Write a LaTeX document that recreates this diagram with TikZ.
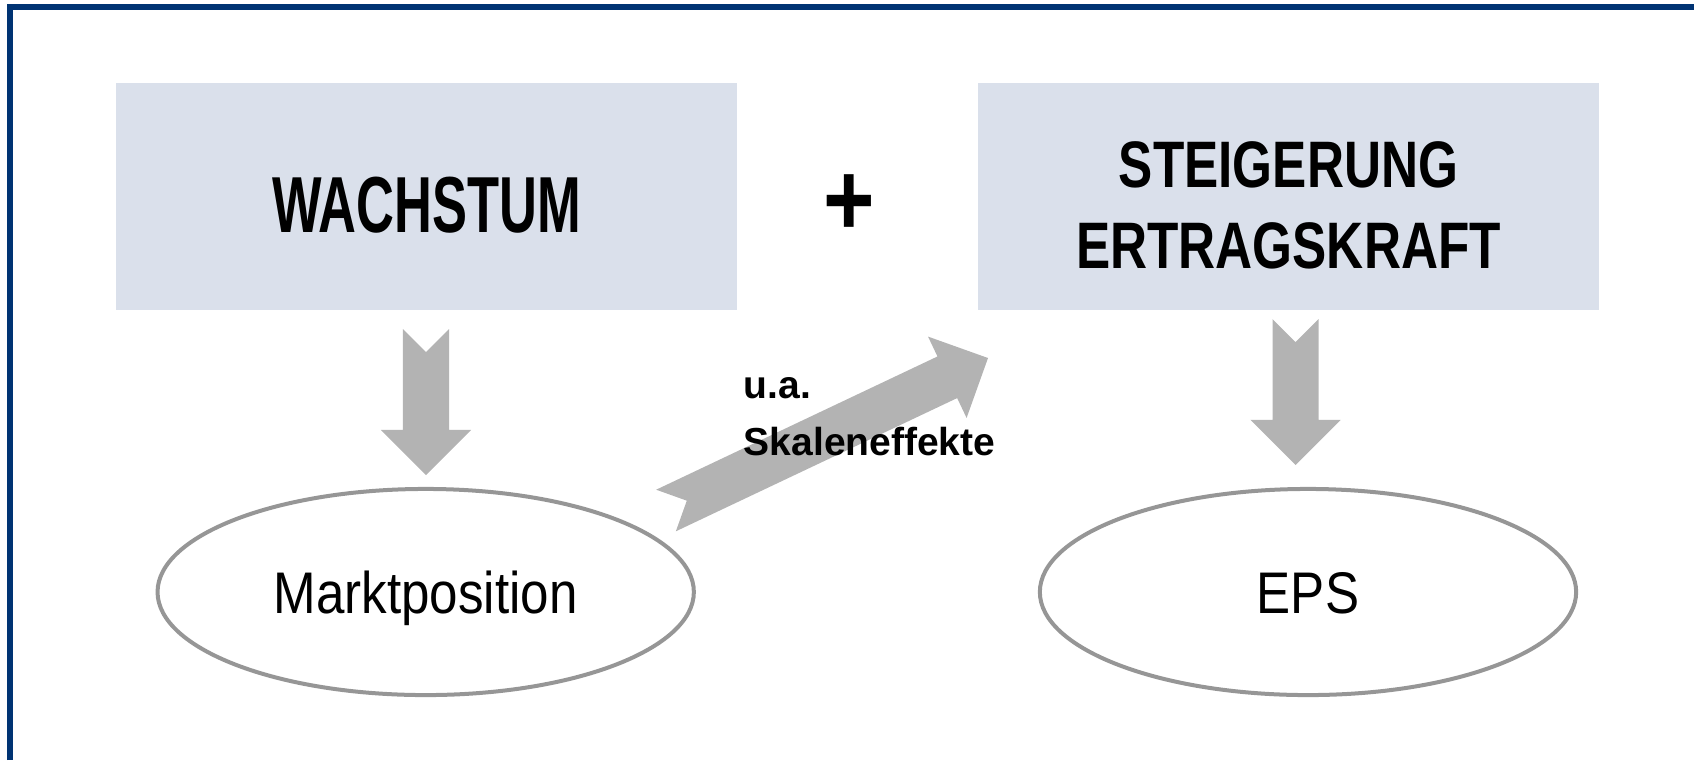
\documentclass[tikz,border=0pt]{standalone}
\usepackage{fontspec}
\setmainfont{Liberation Sans}
\newfontfamily\wachsfont[FakeStretch=0.66]{Liberation Sans}
\newfontfamily\steigfont[FakeStretch=0.78]{Liberation Sans}
\newfontfamily\ovalfont[FakeStretch=0.87]{Liberation Sans}
\newfontfamily\plusfont[FakeStretch=0.85]{Liberation Sans}
\usetikzlibrary{shapes.geometric,calc}
\definecolor{boxfill}{RGB}{218,224,235}
\definecolor{arrowgray}{RGB}{179,179,179}
\definecolor{ovalline}{RGB}{150,150,150}
\definecolor{frameblue}{RGB}{0,51,115}
\newcommand\blockarrow[2]{%
  \coordinate (ba-h) at ($(#2)!0.45cm!(#1)$);
  \fill[arrowgray] ($(#1)!0.23cm!90:(#2)$) -- ($(#1)!0.23cm!(#2)$) -- ($(#1)!0.23cm!-90:(#2)$)
    -- ($(ba-h)!0.23cm!-90:(#2)$) -- ($(ba-h)!0.45cm!-90:(#2)$) -- (#2)
    -- ($(ba-h)!0.45cm!90:(#2)$) -- ($(ba-h)!0.23cm!90:(#2)$) -- cycle;}
\begin{document}
\begin{tikzpicture}[x=0.01cm,y=-0.01cm,
      box/.style={fill=boxfill,minimum width=6.21cm,minimum height=2.27cm,inner sep=0pt},
      oval/.style={ellipse,draw=ovalline,line width=0.04cm,minimum width=5.36cm,
        minimum height=2.06cm,inner sep=0pt,text height=0.42cm,text depth=0pt,
        font=\ovalfont\fontsize{16.7}{20}\selectfont}]
  \useasboundingbox (0,0) rectangle (1694,760);
  \draw[frameblue,line width=0.057cm] (10.3,760) -- (10.3,7.2) -- (1694,7.2);
  \node[box,text height=0.71cm,text depth=0pt,
    font=\wachsfont\bfseries\fontsize{22.6}{27}\selectfont] (wachstum) at (426.5,196.5) {WACHSTUM};
  \node[box,align=center,text height=1.43cm,text depth=0pt,
    font=\steigfont\bfseries\fontsize{18.7}{22.8}\selectfont] (steigerung) at (1288.5,196.5) {STEIGERUNG\\ERTRAGSKRAFT};
  \node[inner sep=0pt,font=\plusfont\bfseries\fontsize{29.5}{30}\selectfont] (plus) at (849,205) {+};
  \node[oval] (markt) at (425.7,592) {Marktposition};
  \node[oval] (eps) at (1308,592) {EPS};
  \coordinate (wa-top) at (426,329);
  \coordinate (wa-tip) at (426,475);
  \coordinate (st-top) at (1295.5,319);
  \coordinate (st-tip) at (1295.5,465);
  \coordinate (sk-tail) at (666,510.5);
  \coordinate (sk-tip) at (988,358);
  \blockarrow{wa-top}{wa-tip}
  \blockarrow{st-top}{st-tip}
  \blockarrow{sk-tail}{sk-tip}
  \node[anchor=base west,align=left,inner sep=0pt,
    font=\bfseries\fontsize{11.1}{16.2}\selectfont] (skalen) at (743,455) {u.a.\\Skaleneffekte};
\end{tikzpicture}
\end{document}
